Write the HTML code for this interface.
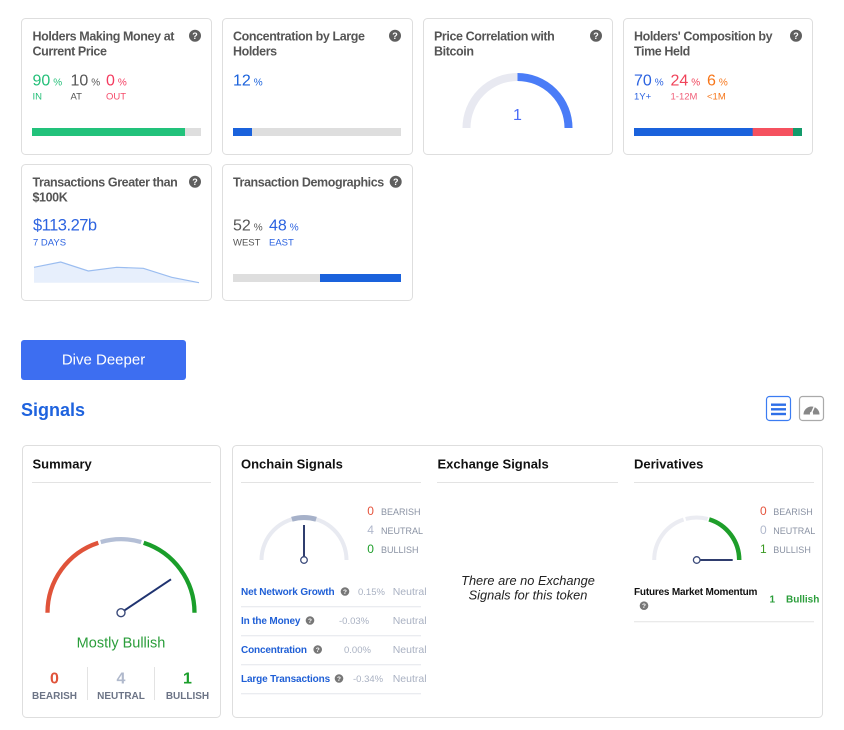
<!DOCTYPE html>
<html><head><meta charset="utf-8"><style>
html,body{margin:0;padding:0;background:#fff;}
svg{display:block;font-family:"Liberation Sans",Arial,sans-serif;}
.t{font-size:12.5px;font-weight:bold;fill:#555;letter-spacing:-0.4px;}
.n{font-size:16px;}
.p{font-size:10px;}
.l{font-size:9.5px;}
.h{font-size:13px;font-weight:bold;fill:#111;}
.q{font-size:9px;font-weight:bold;fill:#fff;text-anchor:middle;}
.qs{font-size:6.5px;font-weight:bold;fill:#fff;text-anchor:middle;}
.rl{font-size:10px;font-weight:bold;fill:#1f5fd6;letter-spacing:-0.15px;}
.rv{font-size:9.5px;fill:#a9b1c2;}
.rn{font-size:10.5px;fill:#a9b1c2;}
.lg{font-size:9px;fill:#8a92a3;}
.ln{font-size:12px;}
</style></head><body>
<svg width="844" height="730" viewBox="0 0 844 730" xmlns="http://www.w3.org/2000/svg">
<!-- top cards -->
<g fill="#fff" stroke="#dedede" stroke-width="1">
<rect x="21.5" y="18.5" width="190" height="136" rx="4"/>
<rect x="222.5" y="18.5" width="190" height="136" rx="4"/>
<rect x="423.5" y="18.5" width="189" height="136" rx="4"/>
<rect x="623.5" y="18.5" width="189" height="136" rx="4"/>
<rect x="21.5" y="164.5" width="190" height="136" rx="4"/>
<rect x="222.5" y="164.5" width="190" height="136" rx="4"/>
<rect x="22.5" y="445.5" width="198" height="272" rx="4"/>
<rect x="232.5" y="445.5" width="590" height="272" rx="4"/>
</g>

<!-- question icons -->
<g fill="#5f5f5f">
<circle cx="195" cy="35.7" r="6"/><circle cx="395" cy="35.7" r="6"/>
<circle cx="596" cy="35.7" r="6"/><circle cx="796" cy="35.7" r="6"/>
<circle cx="195" cy="181.7" r="6"/><circle cx="395.7" cy="181.7" r="6"/>
</g>
<text class="q" x="195" y="39">?</text><text class="q" x="395" y="39">?</text>
<text class="q" x="596" y="39">?</text><text class="q" x="796" y="39">?</text>
<text class="q" x="195" y="185">?</text><text class="q" x="395.7" y="185">?</text>

<!-- card 1 -->
<text class="t" x="32.5" y="40.5">Holders Making Money at</text>
<text class="t" x="32.5" y="55.5">Current Price</text>
<text x="32.5" y="85.7" fill="#23bf78"><tspan class="n">90</tspan><tspan class="p" dx="3">%</tspan></text>
<text x="70.5" y="85.7" fill="#555"><tspan class="n">10</tspan><tspan class="p" dx="3">%</tspan></text>
<text x="106" y="85.7" fill="#f43b5f"><tspan class="n">0</tspan><tspan class="p" dx="3">%</tspan></text>
<text class="l" x="32.5" y="99.3" fill="#23bf78">IN</text>
<text class="l" x="70.5" y="99.3" fill="#555">AT</text>
<text class="l" x="106" y="99.3" fill="#f54b6a">OUT</text>
<rect x="32" y="128" width="169" height="8" fill="#dedede"/>
<rect x="32" y="128" width="153" height="8" fill="#22c27b"/>

<!-- card 2 -->
<text class="t" x="233" y="40.5">Concentration by Large</text>
<text class="t" x="233" y="55.5">Holders</text>
<text x="233" y="85.7" fill="#1a62dc"><tspan class="n">12</tspan><tspan class="p" dx="3">%</tspan></text>
<rect x="233" y="128" width="168" height="8" fill="#dedede"/>
<rect x="233" y="128" width="19" height="8" fill="#1a62dc"/>

<!-- card 3 -->
<text class="t" x="434" y="40.5">Price Correlation with</text>
<text class="t" x="434" y="55.5">Bitcoin</text>
<path d="M466.5 128 A51 51 0 0 1 517.5 77" fill="none" stroke="#e8e9f1" stroke-width="8"/>
<path d="M517.5 77 A51 51 0 0 1 568.5 128" fill="none" stroke="#4a7cf7" stroke-width="8"/>
<text x="517.5" y="120" font-size="16" fill="#4a6cf7" text-anchor="middle">1</text>

<!-- card 4 -->
<text class="t" x="634" y="40.5">Holders' Composition by</text>
<text class="t" x="634" y="55.5">Time Held</text>
<text x="634" y="85.7" fill="#2c63e0"><tspan class="n">70</tspan><tspan class="p" dx="3">%</tspan></text>
<text x="670.5" y="85.7" fill="#f0435a"><tspan class="n">24</tspan><tspan class="p" dx="3">%</tspan></text>
<text x="707" y="85.7" fill="#f7761a"><tspan class="n">6</tspan><tspan class="p" dx="3">%</tspan></text>
<text class="l" x="634" y="99.3" fill="#2c63e0">1Y+</text>
<text class="l" x="670.5" y="99.3" fill="#f0607a">1-12M</text>
<text class="l" x="707" y="99.3" fill="#f7761a">&lt;1M</text>
<rect x="634" y="128" width="119" height="8" fill="#1a62dc"/>
<rect x="752.7" y="128" width="40.3" height="8" fill="#f5515f"/>
<rect x="793" y="128" width="9" height="8" fill="#139a6b"/>

<!-- row 2 card 1 -->
<text class="t" x="32.5" y="186.7">Transactions Greater than</text>
<text class="t" x="32.5" y="201.5">$100K</text>
<text x="33" y="230.7" font-size="16.5" fill="#2c63e0" letter-spacing="-0.5">$113.27b</text>
<text class="l" x="33" y="245.3" fill="#2c63e0">7 DAYS</text>
<polygon points="34,267.3 60.7,262 88.3,271 116.7,267.3 143.3,268.3 171.7,277.3 199,282.7 34,282.7" fill="#e7effc"/>
<polyline points="34,267.3 60.7,262 88.3,271 116.7,267.3 143.3,268.3 171.7,277.3 199,282.7" fill="none" stroke="#9bbdf0" stroke-width="1.2"/>

<!-- row 2 card 2 -->
<text class="t" x="233" y="186.7">Transaction Demographics</text>
<text x="233" y="230.7" fill="#555"><tspan class="n">52</tspan><tspan class="p" dx="3">%</tspan></text>
<text x="269" y="230.7" fill="#2c63e0"><tspan class="n">48</tspan><tspan class="p" dx="3">%</tspan></text>
<text class="l" x="233" y="245.3" fill="#555">WEST</text>
<text class="l" x="269" y="245.3" fill="#2c63e0">EAST</text>
<rect x="233" y="274" width="87" height="8" fill="#dedede"/>
<rect x="320" y="274" width="81" height="8" fill="#1a62dc"/>

<!-- Dive Deeper -->
<rect x="21" y="340" width="165" height="40" rx="3" fill="#3d6ef1"/>
<text x="103.5" y="364.3" font-size="15" fill="#fff" text-anchor="middle">Dive Deeper</text>

<!-- Signals -->
<text x="21" y="416" font-size="18" font-weight="bold" fill="#1f63de">Signals</text>
<rect x="766.5" y="396.5" width="24" height="24" rx="3" fill="#fff" stroke="#3b7cf2" stroke-width="1.2"/>
<g stroke="#2e6fe8" stroke-width="2.4"><line x1="771" y1="404.7" x2="786" y2="404.7"/><line x1="771" y1="409.3" x2="786" y2="409.3"/><line x1="771" y1="414" x2="786" y2="414"/></g>
<rect x="799.5" y="396.5" width="24" height="24" rx="3" fill="#fff" stroke="#aaa" stroke-width="1.2"/>
<path d="M803.5 414.5 A8 8 0 1 1 819.5 414.5 Z" fill="#888"/>
<line x1="811.5" y1="413" x2="815" y2="405" stroke="#fff" stroke-width="1.5"/>
<circle cx="811.5" cy="413.5" r="1.6" fill="#fff"/>

<!-- Summary -->
<text class="h" x="32.5" y="468.5">Summary</text>
<line x1="32" y1="482.5" x2="211" y2="482.5" stroke="#e3e3e3"/>
<path d="M47.5 612.7 A73.5 73.5 0 0 1 98.29 542.8" fill="none" stroke="#e0533a" stroke-width="4.3"/>
<path d="M100.74 542.04 A73.5 73.5 0 0 1 141.26 542.04" fill="none" stroke="#b4bfd6" stroke-width="4.3"/>
<path d="M143.71 542.8 A73.5 73.5 0 0 1 194.5 612.7" fill="none" stroke="#1a9e2a" stroke-width="4.3"/>
<line x1="121" y1="612.7" x2="171" y2="579.3" stroke="#1f3370" stroke-width="2"/>
<circle cx="121" cy="612.7" r="4" fill="#fff" stroke="#3b4a7a" stroke-width="1.4"/>
<text x="121" y="647.3" font-size="14.5" fill="#2a9d3a" text-anchor="middle">Mostly Bullish</text>
<text x="54.5" y="683.7" font-size="16" font-weight="bold" fill="#e0533a" text-anchor="middle">0</text>
<text x="121" y="683.7" font-size="16" font-weight="bold" fill="#b0b9cc" text-anchor="middle">4</text>
<text x="187.5" y="683.7" font-size="16" font-weight="bold" fill="#1a9e2a" text-anchor="middle">1</text>
<text x="54.5" y="699" font-size="10" font-weight="bold" fill="#6c7486" text-anchor="middle">BEARISH</text>
<text x="121" y="699" font-size="10" font-weight="bold" fill="#6c7486" text-anchor="middle">NEUTRAL</text>
<text x="187.5" y="699" font-size="10" font-weight="bold" fill="#6c7486" text-anchor="middle">BULLISH</text>
<line x1="87.5" y1="667" x2="87.5" y2="700" stroke="#e3e3e3"/>
<line x1="154.5" y1="667" x2="154.5" y2="700" stroke="#e3e3e3"/>

<!-- Onchain -->
<text class="h" x="241" y="468.5">Onchain Signals</text>
<line x1="241" y1="482.5" x2="421" y2="482.5" stroke="#e3e3e3"/>
<path d="M261.5 560 A42.5 42.5 0 0 1 346.5 560" fill="none" stroke="#e8eaf1" stroke-width="4"/>
<path d="M291.86 519.27 A42.5 42.5 0 0 1 316.14 519.27" fill="none" stroke="#a6b1c9" stroke-width="5"/>
<line x1="304" y1="560" x2="304" y2="525" stroke="#2f3d6e" stroke-width="2"/>
<circle cx="304" cy="560" r="3.3" fill="#fff" stroke="#3b4a7a" stroke-width="1.3"/>
<text class="ln" x="367.3" y="515" fill="#e5533c">0</text><text class="lg" x="381" y="515">BEARISH</text>
<text class="ln" x="367.3" y="534" fill="#b0b8cc">4</text><text class="lg" x="381" y="534">NEUTRAL</text>
<text class="ln" x="367.3" y="553" fill="#1e9e2a">0</text><text class="lg" x="381" y="553">BULLISH</text>

<g fill="#777"><circle cx="345" cy="591.5" r="4.3"/><circle cx="310" cy="620.5" r="4.3"/><circle cx="317.7" cy="649.5" r="4.3"/><circle cx="339" cy="678.5" r="4.3"/><circle cx="644" cy="605.7" r="4.3"/></g>
<text class="qs" x="345" y="594">?</text><text class="qs" x="310" y="623">?</text><text class="qs" x="317.7" y="652">?</text><text class="qs" x="339" y="681">?</text><text class="qs" x="644" y="608.2">?</text>

<text class="rl" x="241" y="595">Net Network Growth</text>
<text class="rv" x="358" y="595">0.15%</text><text class="rn" x="392.7" y="595">Neutral</text>
<line x1="241" y1="606.7" x2="421" y2="606.7" stroke="#e3e6ec"/>
<text class="rl" x="241" y="624">In the Money</text>
<text class="rv" x="339" y="624">-0.03%</text><text class="rn" x="392.7" y="624">Neutral</text>
<line x1="241" y1="635.7" x2="421" y2="635.7" stroke="#e3e6ec"/>
<text class="rl" x="241" y="653">Concentration</text>
<text class="rv" x="344" y="653">0.00%</text><text class="rn" x="392.7" y="653">Neutral</text>
<line x1="241" y1="664.7" x2="421" y2="664.7" stroke="#e3e6ec"/>
<text class="rl" x="241" y="682">Large Transactions</text>
<text class="rv" x="353" y="682">-0.34%</text><text class="rn" x="392.7" y="682">Neutral</text>
<line x1="241" y1="693.7" x2="421" y2="693.7" stroke="#e3e6ec"/>

<!-- Exchange -->
<text class="h" x="437.5" y="468.5">Exchange Signals</text>
<line x1="437" y1="482.5" x2="618" y2="482.5" stroke="#e3e3e3"/>
<text x="528" y="585" font-size="12.8" font-style="italic" fill="#222" text-anchor="middle">There are no Exchange</text>
<text x="528" y="599.3" font-size="12.8" font-style="italic" fill="#222" text-anchor="middle">Signals for this token</text>

<!-- Derivatives -->
<text class="h" x="634" y="468.5">Derivatives</text>
<line x1="634" y1="482.5" x2="814" y2="482.5" stroke="#e3e3e3"/>
<path d="M654.2 560 A42.5 42.5 0 0 1 683.57 519.58" fill="none" stroke="#ebecf2" stroke-width="4"/>
<path d="M685.7 518.95 A42.5 42.5 0 0 1 707.7 518.95" fill="none" stroke="#ebecf2" stroke-width="4"/>
<path d="M709.13 519.36 A42.5 42.5 0 0 1 739.2 560" fill="none" stroke="#1e9e2a" stroke-width="4.5"/>
<line x1="696.7" y1="560" x2="732.7" y2="560" stroke="#2f3d6e" stroke-width="2"/>
<circle cx="696.7" cy="560" r="3.3" fill="#fff" stroke="#3b4a7a" stroke-width="1.3"/>
<text class="ln" x="760" y="515" fill="#e5533c">0</text><text class="lg" x="773.3" y="515">BEARISH</text>
<text class="ln" x="760" y="534" fill="#b0b8cc">0</text><text class="lg" x="773.3" y="534">NEUTRAL</text>
<text class="ln" x="760" y="553" fill="#3a9a22">1</text><text class="lg" x="773.3" y="553">BULLISH</text>
<text x="634" y="595" font-size="10" font-weight="bold" fill="#111" letter-spacing="-0.2">Futures Market Momentum</text>
<text x="769.5" y="602.7" font-size="10" font-weight="bold" fill="#2a9d3a">1</text>
<text x="786" y="602.7" font-size="10" font-weight="bold" fill="#2a9d3a">Bullish</text>
<line x1="634" y1="621.7" x2="814" y2="621.7" stroke="#e3e3e3"/>
</svg>
</body></html>
